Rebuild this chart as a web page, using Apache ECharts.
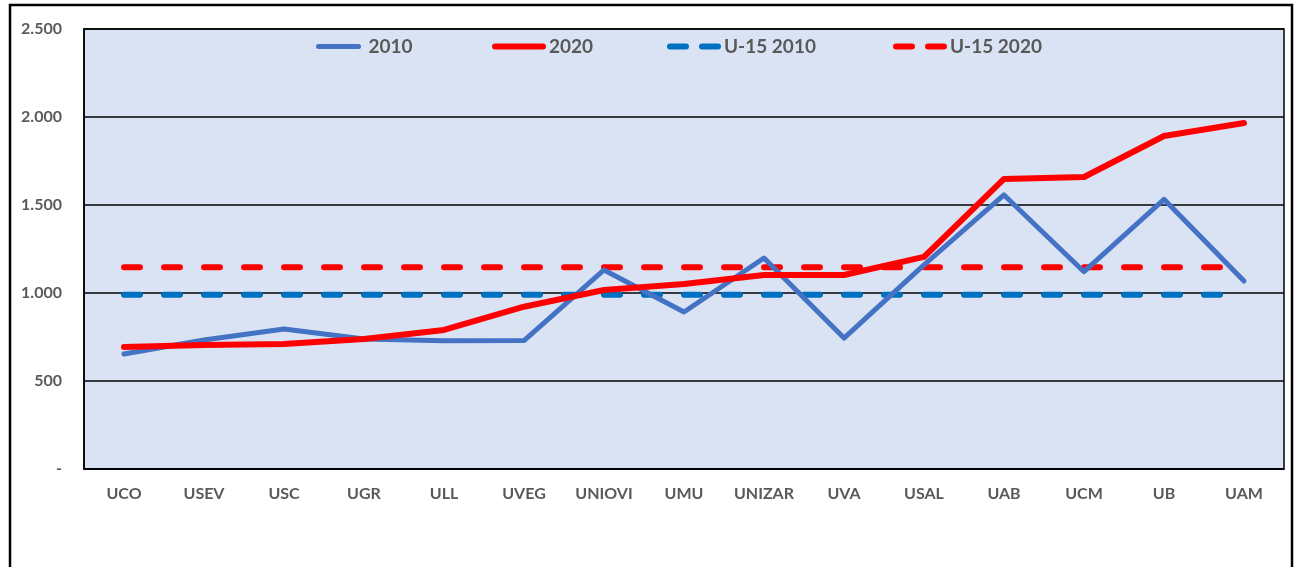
<!DOCTYPE html>
<html>
<head>
<meta charset="utf-8">
<script src="https://cdn.jsdelivr.net/npm/echarts@6/dist/echarts.min.js"></script>
<style>
html,body{margin:0;padding:0;background:#fff;}
#c{width:1297px;height:567px;}
</style>
</head>
<body>
<div id="c"></div>
<script>
const categories = ['UCO','USEV','USC','UGR','ULL','UVEG','UNIOVI','UMU','UNIZAR','UVA','USAL','UAB','UCM','UB','UAM'];
const values2010 = [653, 733, 795, 739, 729, 730, 1131, 892, 1199, 744, 1160, 1557, 1121, 1532, 1068];
const values2020 = [693, 705, 710, 739, 790, 922, 1017, 1051, 1102, 1102, 1205, 1648, 1659, 1892, 1966];
const u15_2010 = 990;
const u15_2020 = 1146;
const yTicks = [0, 500, 1000, 1500, 2000, 2500];
const seriesNames = ['2010', '2020', 'U-15 2010', 'U-15 2020'];

const fmt = v => v === 0 ? '-' : String(v).replace(/\B(?=(\d{3})+(?!\d))/g, '.');
const flat = v => categories.map(() => v);

const font = 'Lato, "Open Sans", sans-serif';
const solidIcon = 'path://M3,0 H51 A3,3 0 0 1 51,6 H3 A3,3 0 0 1 3,0 Z';
const dashIcon = 'path://M3,0 H19 A3,3 0 0 1 19,6 H3 A3,3 0 0 1 3,0 Z M35,0 H51 A3,3 0 0 1 51,6 H35 A3,3 0 0 1 35,0 Z';
const legendLeft = [316, 492, 667, 893];
const legendIcons = [solidIcon, solidIcon, dashIcon, dashIcon];
const legendH = [5, 6, 6, 6];

const legends = seriesNames.map((n, i) => ({
  left: legendLeft[i], top: 37, padding: 0,
  itemWidth: 54, itemHeight: legendH[i], itemGap: 0,
  icon: legendIcons[i],
  selectedMode: false,
  textStyle: {color: '#595959', fontSize: 19, fontWeight: 'bold', fontFamily: font, padding: [0,0,0,-2]},
  data: [n]
}));

const chart = echarts.init(document.getElementById('c'), null, {renderer: 'canvas'});
chart.setOption({
  animation: false,
  backgroundColor: '#ffffff',
  graphic: [{
    type: 'rect',
    shape: {x: 10, y: 5, width: 1282, height: 620},
    style: {fill: 'none', stroke: '#000', lineWidth: 2.5},
    silent: true, z: 0
  }],
  grid: {
    left: 84, right: 13, top: 29, bottom: 98,
    show: true, backgroundColor: '#DAE3F3', borderColor: '#000', borderWidth: 1.5
  },
  legend: legends,
  xAxis: {
    type: 'category', data: categories, boundaryGap: true,
    axisLine: {lineStyle: {color: '#000', width: 1.5}},
    axisTick: {show: false},
    axisLabel: {color: '#595959', fontSize: 16, fontWeight: 'bold', fontFamily: font, margin: 17},
    splitLine: {show: false}
  },
  yAxis: {
    type: 'value', min: yTicks[0], max: yTicks[yTicks.length-1], interval: 500,
    axisLine: {show: true, lineStyle: {color: '#000', width: 1.5}},
    axisTick: {show: false},
    axisLabel: {color: '#595959', fontSize: 16, fontWeight: 'bold', fontFamily: font, margin: 22, formatter: fmt},
    splitLine: {show: true, lineStyle: {color: '#000', width: 1.5}}
  },
  series: [
    {name: seriesNames[0], type: 'line', data: values2010, symbol: 'none', z: 3,
     lineStyle: {color: '#4472C4', width: 5, cap: 'round', join: 'round'}, itemStyle: {color: '#4472C4'}},
    {name: seriesNames[1], type: 'line', data: values2020, symbol: 'none', z: 4,
     lineStyle: {color: '#FF0000', width: 6, cap: 'round', join: 'round'}, itemStyle: {color: '#FF0000'}},
    {name: seriesNames[2], type: 'line', data: flat(u15_2010), symbol: 'none', z: 2,
     lineStyle: {color: '#0070C0', width: 6, type: [16, 24], cap: 'round'}, itemStyle: {color: '#0070C0'}},
    {name: seriesNames[3], type: 'line', data: flat(u15_2020), symbol: 'none', z: 2,
     lineStyle: {color: '#FF0000', width: 6, type: [16, 24], cap: 'round'}, itemStyle: {color: '#FF0000'}}
  ]
});
</script>
</body>
</html>
